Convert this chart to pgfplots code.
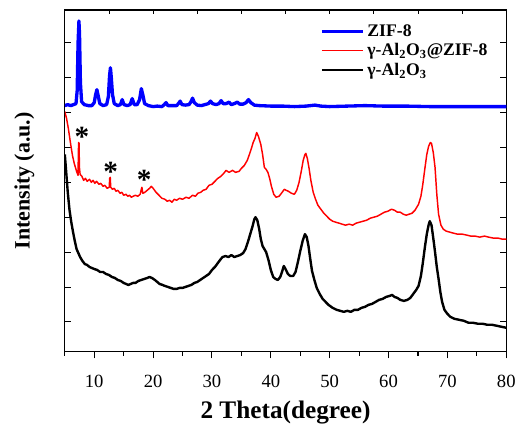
\documentclass[border=0pt]{standalone}
\usepackage{pgfplots}
\pgfplotsset{compat=1.18}
\usepackage{fontspec}
\setmainfont{Liberation Serif}
\definecolor{zblue}{RGB}{0,0,255}
\definecolor{zred}{RGB}{255,0,0}
\begin{document}
\begin{tikzpicture}
\begin{axis}[
  scale only axis,
  width=332pt, height=257pt,
  xmin=5, xmax=80, ymin=0, ymax=343,
  axis line style={line width=0.9pt},
  xtick={10,20,...,80},
  minor xtick={5,15,...,75},
  xtick pos=bottom,
  x tick style={line width=0.8pt, black},
  xtick align=outside,
  major tick length=5pt,
  minor tick length=3pt,
  ytick={30,65,...,310},
  yticklabels={},
  y tick style={line width=0.6pt, black},
  ytick align=inside,
  ytick pos=both,
  ticklabel style={font=\fontsize{14}{16}\selectfont},
  xticklabel style={yshift=-9pt},
  /pgf/number format/assume math mode=true,
  xlabel={\bfseries 2 Theta(degree)},
  ylabel={\bfseries Intensity (a.u.)},
  xlabel style={font=\fontsize{19}{22}\selectfont, yshift=-3pt},
  ylabel style={font=\fontsize{16.5}{20}\selectfont, yshift=12.5pt},
  legend style={draw=none, fill=none, at={(rel axis cs:0.575,0.97)}, anchor=north west,
    font=\bfseries\fontsize{13.3}{15}\selectfont, row sep=0pt, inner sep=1pt},
  legend cell align=left,
  legend image code/.code={\draw[#1] (0pt,0pt) -- (31pt,0pt);},
]
\addplot[zblue, line width=2.5pt, line join=round] coordinates {
(5,247)(5.5,248)(6.0,247)(6.5,248)(6.9,249)(7.1,262)(7.25,310)(7.4,332)(7.5,318)(7.65,270)(7.85,251)
(8.3,248)(9.0,247)(9.6,247)(10.0,250)(10.2,257)(10.45,263)(10.7,256)(10.95,249)(11.5,247)(12.1,248)
(12.4,256)(12.6,277)(12.75,285)(12.9,275)(13.1,258)(13.4,249)(14.0,247)(14.45,248)(14.75,253)(15.05,248)
(15.6,247)(16.1,248)(16.45,254)(16.8,248)(17.3,248)(17.7,253)(18.0,264)(18.25,258)(18.55,249)(19.2,247)
(20,246)(20.7,246.5)(21.5,246)(21.9,248)(22.2,250)(22.5,247)(23.3,247)(24.0,247)(24.3,249)(24.6,251.5)
(24.9,248)(25.5,247.5)(26.1,248)(26.45,251)(26.7,254.5)(27.0,250)(27.5,247.5)(28.2,247)(28.8,248)
(29.4,249)(29.75,251.5)(30.1,249)(30.7,248)(31.2,249)(31.55,252)(31.9,249)(32.4,249)(32.9,250.5)
(33.3,248)(33.8,249)(34.3,250.5)(34.7,248.5)(35.3,248.5)(35.8,250)(36.2,253)(36.6,250)(37.2,247.5)
(38.0,247)(40,246.5)(42,246.5)(44,246)(46,246.5)(47.5,247.5)(48.5,246.5)(50,246)(53,246.5)(56,247)
(59,246.5)(63,246.5)(67,246)(70,246)(75,246)(80,246)
};
\addlegendentry{ZIF-8}
\addplot[zred, line width=1.1pt, line join=round] coordinates {
(5.0,241)(5.3,234)(5.6,224)(6.0,208)(6.3,197)(6.6,189)(7.0,181)(7.25,177)(7.3,200)(7.35,210)(7.42,209)
(7.48,185)(7.6,178)(7.9,176)(8.2,172)(8.5,174)(8.8,171)(9.2,173)(9.5,170)(9.8,172)(10.1,169)(10.4,171)
(10.8,168)(11.1,169)(11.5,166)(11.8,167)(12.2,164)(12.55,165)(12.62,174)(12.72,175)(12.8,165)(13.1,163)
(13.4,164)(13.7,161)(14.0,162)(14.4,159)(14.7,160)(15.0,157)(15.4,158)(15.7,156)(16.0,157)(16.3,155)
(16.6,156)(17.0,157)(17.4,156)(17.8,158)(18.0,163)(18.1,165)(18.25,159)(18.6,160)(19.0,162)(19.4,164)
(19.7,166)(20.0,164)(20.5,160)(21.0,157)(21.5,154)(22.0,153)(22.4,151)(22.8,152)(23.2,150)(23.6,153)
(24.0,152)(24.5,154)(25.0,153)(25.6,155)(26.1,154)(26.7,157)(27.2,156)(27.6,159)(28.1,160)(28.5,162)
(29.0,163)(29.5,167)(30.0,168)(30.5,171)(31.0,174)(31.5,176)(32.0,179)(32.4,182)(32.9,180)(33.5,182)
(34.0,180)(34.6,181)(35.0,184)(35.5,187)(36.0,192)(36.3,197)(36.7,204)(37.0,210)(37.3,214)(37.6,220)
(37.9,216)(38.3,208)(38.6,198)(38.9,185)(39.2,183)(39.5,180)(39.8,174)(40.1,166)(40.5,158)(40.9,155)
(41.4,156)(41.8,159)(42.3,163)(42.6,162)(43.0,161)(43.5,159)(44.0,158)(44.4,162)(44.8,170)(45.2,182)
(45.5,192)(45.8,198)(45.95,199)(46.2,194)(46.5,184)(46.8,172)(47.2,160)(47.6,153)(48.0,147)(48.5,143)
(49.0,139)(49.5,136)(50.0,133)(50.5,131)(51.0,130)(51.6,129)(52.1,128)(52.7,127)(53.3,128)(53.9,127)
(54.5,129)(55.1,130)(55.7,131)(56.3,132)(56.9,134)(57.5,135)(58.1,136)(58.7,138)(59.3,140)(59.9,141)
(60.5,143)(61.0,142)(61.5,140)(62.0,140)(62.5,138)(63.0,137)(63.5,138)(64.0,139)(64.5,142)(65.1,148)
(65.5,156)(65.8,167)(66.2,185)(66.5,198)(66.8,206)(67.1,210)(67.3,209)(67.6,200)(67.9,185)(68.2,158)
(68.5,138)(68.9,127)(69.3,123)(69.8,121)(70.4,120)(71.0,119)(71.7,118)(72.5,118)(73.3,117)(74.0,116)
(74.7,116)(75.5,115)(76.3,116)(77.0,115)(77.8,114)(78.6,114)(79.3,113)(80,113)
};
\addlegendentry{γ-Al\textsubscript{2}O\textsubscript{3}@ZIF-8}
\addplot[black, line width=1.8pt, line join=round] coordinates {
(5.0,198)(5.2,183)(5.5,160)(5.8,142)(6.1,130)(6.4,120)(6.7,111)(7.0,103)(7.3,99)(7.6,95)(8.0,91)
(8.4,88)(8.8,87)(9.2,85)(9.6,84)(10.0,83)(10.5,82)(11.0,80)(11.5,80)(12.0,78)(12.5,77)(13.0,75)
(13.5,74)(14.0,72)(14.5,71)(15.0,69)(15.4,68)(15.8,67)(16.2,68)(16.6,69)(17.0,69)(17.5,71)(18.0,72)
(18.5,73)(19.0,74)(19.4,75)(19.8,74)(20.3,72)(20.7,70)(21.1,68)(21.6,67)(22.0,66)(22.5,65)(23.0,64)
(23.5,63)(24.0,63)(24.5,64)(25.0,64)(25.5,65)(26.0,66)(26.5,67)(27.0,69)(27.5,70)(28.0,72)(28.5,74)
(29.0,76)(29.5,78)(30.0,82)(30.5,85)(31.0,89)(31.5,93)(31.8,95)(32.3,96)(32.8,95)(33.3,97)(33.8,95)
(34.3,96)(34.8,97)(35.3,99)(35.7,103)(36.1,110)(36.5,118)(36.9,126)(37.2,133)(37.4,135)(37.7,132)
(38.0,124)(38.3,113)(38.6,106)(38.9,103)(39.2,100)(39.6,92)(40.0,82)(40.4,75)(40.8,73)(41.2,72)
(41.6,75)(41.9,80)(42.2,86)(42.5,83)(42.9,78)(43.3,76)(43.8,76)(44.2,80)(44.6,90)(45.0,101)(45.4,111)
(45.8,118)(46.1,115)(46.4,106)(46.7,93)(47.0,81)(47.4,72)(47.8,64)(48.3,58)(48.8,53)(49.3,50)(49.8,47)
(50.5,44)(51.2,42)(51.8,41)(52.4,40)(53.0,41)(53.6,40)(54.2,42)(54.8,42)(55.4,44)(56.0,45)(56.6,47)
(57.2,48)(57.8,50)(58.4,52)(59.0,53)(59.6,55)(60.2,56)(60.6,57)(61.0,55)(61.5,54)(62.0,52)(62.6,51)
(63.2,52)(63.7,54)(64.2,58)(64.7,62)(65.1,66)(65.5,76)(65.8,88)(66.2,106)(66.5,118)(66.8,127)(67.0,131)
(67.3,127)(67.6,114)(67.9,100)(68.2,85)(68.5,73)(68.8,60)(69.1,50)(69.5,42)(70.0,38)(70.5,35)(71.2,33)
(72.0,32)(72.8,31)(73.6,29)(74.4,29)(75.2,28)(76.0,28)(76.8,27)(77.6,27)(78.4,26)(79.2,25)(80,24)
};
\addlegendentry{γ-Al\textsubscript{2}O\textsubscript{3}}
\node[font=\bfseries\fontsize{22}{24}\selectfont, anchor=base, inner sep=0pt] at (axis cs:7.9,206) {*};
\node[font=\bfseries\fontsize{22}{24}\selectfont, anchor=base, inner sep=0pt] at (axis cs:12.8,171) {*};
\node[font=\bfseries\fontsize{22}{24}\selectfont, anchor=base, inner sep=0pt] at (axis cs:18.5,163) {*};
\end{axis}
\begin{axis}[
  scale only axis,
  width=332pt, height=257pt,
  xmin=5, xmax=80, ymin=0, ymax=343,
  axis x line*=top, axis y line=none,
  xtick={12.5,20,...,72.5}, xticklabels={},
  tick align=inside, major tick length=3pt,
  x tick style={line width=0.6pt, black},
  axis line style={line width=0.9pt},
]
\end{axis}
\path (current axis.south west) +(-48.75pt,-57.75pt) (current axis.north east) +(9pt,7.5pt);
\end{tikzpicture}
\end{document}
